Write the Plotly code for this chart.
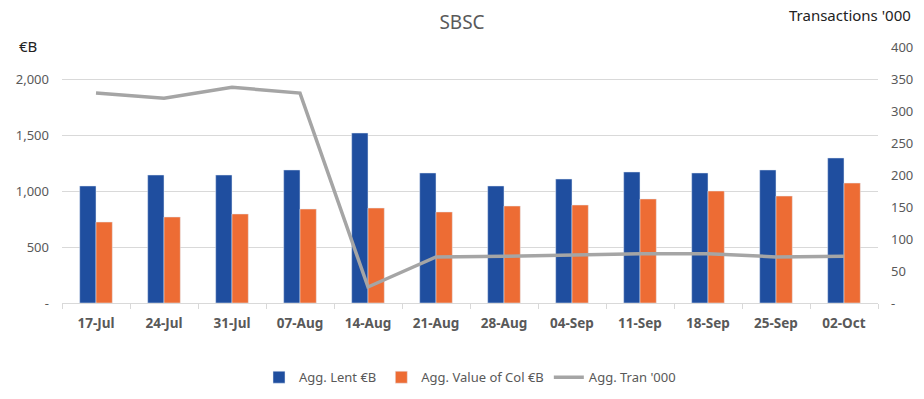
import plotly.graph_objects as go

weeks = ["17-Jul", "24-Jul", "31-Jul", "07-Aug", "14-Aug", "21-Aug", "28-Aug",
         "04-Sep", "11-Sep", "18-Sep", "25-Sep", "02-Oct"]
agg_lent = [1045, 1143, 1143, 1188, 1518, 1161, 1045, 1107, 1170, 1161, 1188, 1295]
agg_col = [723, 768, 795, 839, 848, 813, 866, 875, 929, 1000, 955, 1071]
agg_tran = [328, 320, 337, 328, 25, 72, 73, 75, 77, 77, 72, 73]

left_ticks = [0, 500, 1000, 1500, 2000]
left_labels = ["-", "500", "1,000", "1,500", "2,000"]
right_ticks = [0, 50, 100, 150, 200, 250, 300, 350, 400]
right_labels = ["-", "50", "100", "150", "200", "250", "300", "350", "400"]

FONT = "Noto Sans"
GREY = "#595959"

fig = go.Figure()
fig.add_trace(go.Bar(x=weeks, y=agg_lent, name="Agg. Lent €B", marker_color="#1f4e9f"))
fig.add_trace(go.Bar(x=weeks, y=agg_col, name="Agg. Value of Col €B", marker_color="#ed6c34"))
fig.add_trace(go.Scatter(x=weeks, y=agg_tran, name="Agg. Tran '000", mode="lines",
                         line=dict(color="#a5a5a5", width=3.5), yaxis="y2"))

fig.update_layout(
    width=924, height=399,
    margin=dict(l=62, r=46, t=47, b=96, autoexpand=False),
    paper_bgcolor="white", plot_bgcolor="white",
    font=dict(family=FONT, size=12, color=GREY),
    barmode="group", bargap=0.52, bargroupgap=0,
    title=dict(text="SBSC", x=0.5, xanchor="center", y=0.945, yanchor="middle",
               font=dict(size=19, color=GREY)),
    xaxis=dict(showline=True, linecolor="#d9d9d9", linewidth=1, automargin=False,
               ticks="outside", tickson="boundaries", ticklen=5, tickcolor="#d9d9d9",
               tickfont=dict(size=13.5, color=GREY, family=FONT, weight="bold"),
               ticklabelstandoff=8, showgrid=False),
    yaxis=dict(range=[0, 2286], tickvals=left_ticks, ticktext=left_labels, automargin=False,
               showgrid=True, gridcolor="#d9d9d9", gridwidth=1, zeroline=False,
               tickfont=dict(size=13, color=GREY), ticklabelstandoff=12),
    yaxis2=dict(range=[0, 400], tickvals=right_ticks, ticktext=right_labels, automargin=False,
                overlaying="y", side="right", showgrid=False, zeroline=False,
                tickfont=dict(size=13, color=GREY), ticklabelstandoff=12),
    legend=dict(orientation="h", x=0.5, xanchor="center", y=-0.29, yanchor="middle",
                font=dict(size=13, color=GREY), traceorder="normal",
                itemwidth=30),
    annotations=[
        dict(text="€B", xref="paper", yref="paper", x=-0.042, y=1.004,
             xanchor="center", yanchor="middle", showarrow=False,
             font=dict(size=15, color="#222222")),
        dict(text="Transactions '000", xref="paper", yref="paper", x=1.043, y=1.125,
             xanchor="right", yanchor="middle", showarrow=False,
             font=dict(size=15, color="#222222")),
    ],
)

fig.write_html("out.html", config={"displayModeBar": False},
               post_script="document.body.style.margin='0';document.body.style.overflow='hidden';")
